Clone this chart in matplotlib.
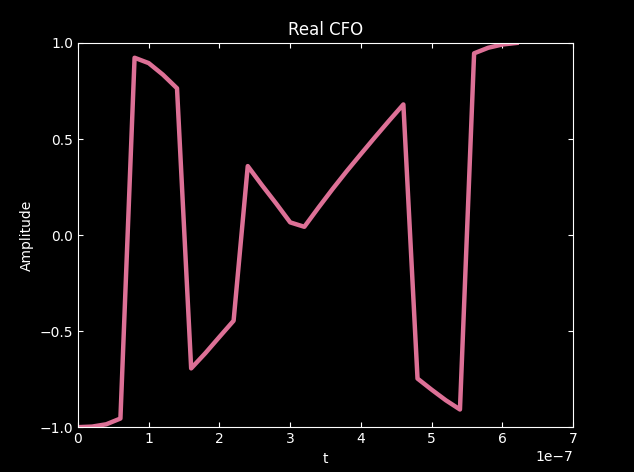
import matplotlib
matplotlib.use('Agg')
import matplotlib.pyplot as plt
import numpy as np

plt.style.use('dark_background')

t = np.arange(0, 32) * 2e-8
real_cfo = [-1.0, -0.997, -0.985, -0.955,
            0.923, 0.895, 0.835, 0.764,
            -0.694, -0.615, -0.53, -0.446,
            0.359, 0.26, 0.165, 0.066,
            0.043, 0.143, 0.24, 0.333, 0.422, 0.51, 0.596, 0.68,
            -0.747, -0.805, -0.86, -0.908,
            0.946, 0.975, 0.992, 1.0]

fig = plt.figure(figsize=(6.34, 4.72), dpi=100)
ax = fig.add_axes([0.123, 0.095, 0.781, 0.814])
ax.plot(t, real_cfo, color='#dd7096', linewidth=3.2)
ax.set_xlim(0, 7e-7)
ax.set_ylim(-1, 1)
ax.set_yticks([-1.0, -0.5, 0.0, 0.5, 1.0])
ax.tick_params(direction='in', top=True, right=True, labelsize=10)
ax.set_title('Real CFO', fontsize=12)
ax.set_xlabel('t')
ax.set_ylabel('Amplitude')

fig.savefig('out.png', dpi=100)
